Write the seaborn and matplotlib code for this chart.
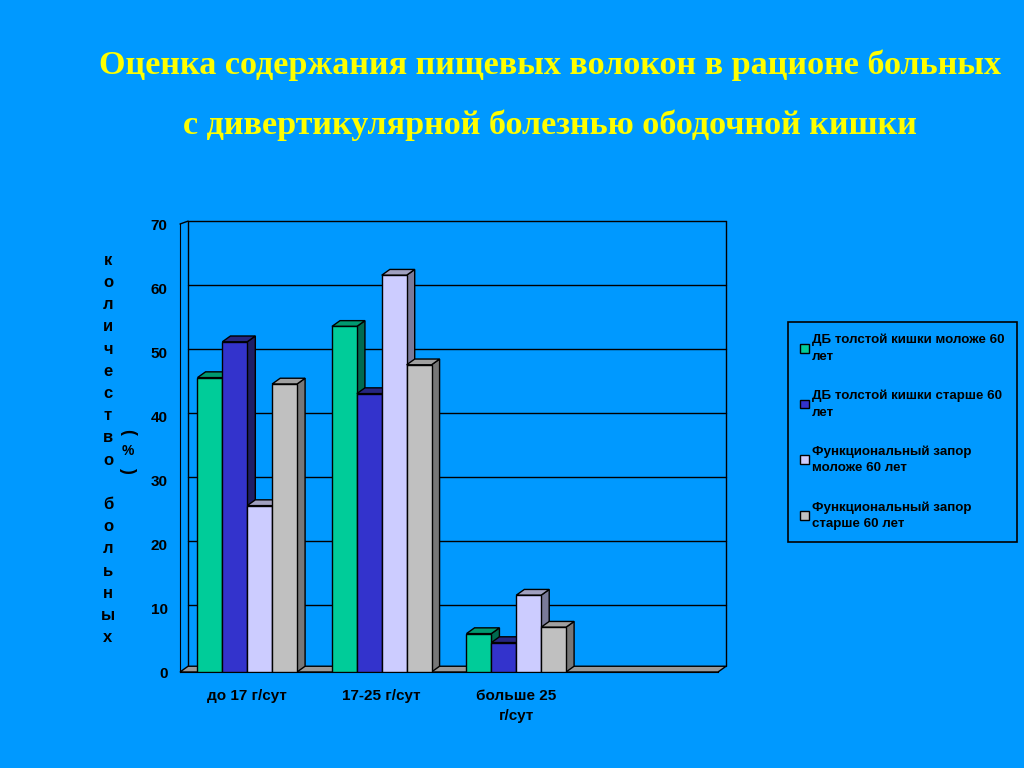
import matplotlib.pyplot as plt
from matplotlib.colors import to_rgb
from matplotlib.patches import Polygon, Patch
import numpy as np
import pandas as pd
import seaborn as sns

BG = "#0099FF"

categories = ["до 17 г/сут", "17-25 г/сут", "больше 25\nг/сут"]
series = [
    "ДБ толстой кишки моложе 60\nлет",
    "ДБ толстой кишки старше 60\nлет",
    "Функциональный запор\nмоложе 60 лет",
    "Функциональный запор\nстарше 60 лет",
]
db_young = [46, 54, 6]
db_old = [51.6, 43.5, 4.6]
fz_young = [26, 62, 12]
fz_old = [45, 48, 7]
colors = ["#00CC99", "#3333CC", "#CCCCFF", "#C0C0C0"]
side_colors = ["#006B50", "#1E1E66", "#7A7A99", "#777777"]
top_colors = ["#009970", "#262680", "#A0A0C0", "#A0A0A0"]

df = pd.DataFrame({
    "cat": categories * 4,
    "group": [s for s in series for _ in categories],
    "value": db_young + db_old + fz_young + fz_old,
})

sns.set_style("white")
plt.rcParams["font.family"] = ["Liberation Sans", "DejaVu Sans"]
plt.rcParams["text.color"] = "black"
plt.rcParams["xtick.color"] = "black"
plt.rcParams["ytick.color"] = "black"

fig = plt.figure(figsize=(10.24, 7.68), dpi=100, facecolor=BG)
ax = fig.add_axes([180 / 1024, 1 - 672 / 768, 538 / 1024, 448 / 768])
ax.set_facecolor(BG)

sns.barplot(data=df, x="cat", y="value", hue="group", order=categories,
            hue_order=series, palette=colors, width=0.74, gap=0,
            edgecolor="black", linewidth=1, saturation=1, legend=False,
            ax=ax, zorder=3)

# pseudo 3D depth
dx, dy = 0.06, 0.9
bars = sorted(ax.patches, key=lambda p: p.get_x())
for i, bar in enumerate(bars):
    x0, w, h = bar.get_x(), bar.get_width(), bar.get_height()
    ci = next(k for k, c in enumerate(colors)
              if np.allclose(to_rgb(c), bar.get_facecolor()[:3], atol=0.01))
    z = 3 + i * 0.01
    bar.set_zorder(z + 0.005)
    side = Polygon([(x0 + w, 0), (x0 + w + dx, dy), (x0 + w + dx, h + dy), (x0 + w, h)],
                   closed=True, facecolor=side_colors[ci], edgecolor="black",
                   linewidth=1, zorder=z)
    top = Polygon([(x0, h), (x0 + dx, h + dy), (x0 + w + dx, h + dy), (x0 + w, h)],
                  closed=True, facecolor=top_colors[ci], edgecolor="black",
                  linewidth=1, zorder=z)
    ax.add_patch(side)
    ax.add_patch(top)

ax.set_xlim(-0.5, 3.5)
ax.set_ylim(0, 70)

# floor slab and back wall
ax.add_patch(Polygon([(-0.5, 0), (-0.5 + dx, dy), (3.5 + dx, dy), (3.5, 0)], closed=True,
                     facecolor="#999999", edgecolor="black", linewidth=1, zorder=2,
                     clip_on=False))

ax.set_yticks(np.arange(0, 71, 10))
for v in np.arange(10, 71, 10):
    ax.plot([-0.5 + dx, 3.5 + dx], [v + dy * 0.5, v + dy * 0.5], color="black",
            linewidth=1, zorder=1, clip_on=False)
ax.plot([-0.5 + dx, -0.5 + dx], [dy, 70 + dy * 0.5], color="black", linewidth=1,
        zorder=1, clip_on=False)
ax.plot([3.5 + dx, 3.5 + dx], [dy, 70 + dy * 0.5], color="black", linewidth=1,
        zorder=1, clip_on=False)
ax.plot([-0.5, -0.5 + dx], [70, 70 + dy * 0.5], color="black", linewidth=1,
        zorder=1, clip_on=False)

ax.set_xticks([0.5, 1.5, 2.5, 3.5])
ax.set_xticklabels([])
ax.set_xticks([0, 1, 2], minor=True)
ax.set_xticklabels(categories, minor=True, fontsize=11, fontweight="bold",
                   linespacing=1.6)
ax.tick_params(axis="x", which="minor", length=0, pad=12)
ax.tick_params(axis="x", which="major", length=6, direction="out", color="black")
ax.tick_params(axis="y", length=5, direction="out", color="black", labelsize=11, pad=4)
for lab in ax.get_yticklabels():
    lab.set_fontweight("bold")
for s in ["top", "right"]:
    ax.spines[s].set_visible(False)
for s in ["left", "bottom"]:
    ax.spines[s].set_color("black")
ax.set_xlabel("")
ax.set_ylabel("")

# vertical y-axis label
fig.text(108 / 1024, 1 - 449 / 768, "\n".join("количество больных"),
         ha="center", va="center", fontsize=12, fontweight="bold", linespacing=1.6)
fig.text(128 / 1024, 1 - 432 / 768, "(", rotation=-90, ha="center", va="center",
         fontsize=13, fontweight="bold")
fig.text(128 / 1024, 1 - 451 / 768, "%", ha="center", va="center",
         fontsize=10, fontweight="bold")
fig.text(128 / 1024, 1 - 470 / 768, ")", rotation=-90, ha="center", va="center",
         fontsize=13, fontweight="bold")

# title
fig.text(550 / 1024, 1 - 65 / 768, "Оценка содержания пищевых волокон в рационе больных",
         ha="center", va="center", color="#FFFF00", fontsize=24.6, fontweight="bold",
         family="Liberation Serif")
fig.text(550 / 1024, 1 - 125 / 768, "с дивертикулярной болезнью ободочной кишки",
         ha="center", va="center", color="#FFFF00", fontsize=24.6, fontweight="bold",
         family="Liberation Serif")

handles = [Patch(facecolor=c, edgecolor="black", linewidth=1) for c in colors]
leg = fig.legend(handles, series, loc="upper left",
                 bbox_to_anchor=(788 / 1024, 1 - 322 / 768), frameon=True,
                 facecolor=BG, edgecolor="black", fancybox=False, framealpha=1,
                 prop={"size": 9.6, "weight": "bold"}, handlelength=0.65,
                 handleheight=0.65, handletextpad=0.25, labelspacing=2.0,
                 borderpad=0.9, borderaxespad=0)
leg.get_frame().set_linewidth(1.2)
for t in leg.get_texts():
    t.set_linespacing(1.5)

fig.savefig("out.png", dpi=100, facecolor=BG)
